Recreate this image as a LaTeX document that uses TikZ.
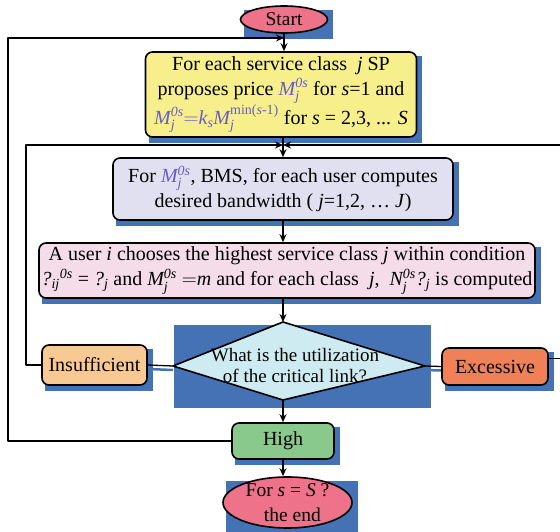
\documentclass[tikz,border=0pt]{standalone}
\usepackage{amsmath}
\usepackage{fontspec}
\setmainfont{Liberation Serif}
\usetikzlibrary{arrows.meta,shapes.geometric,backgrounds,calc}

\definecolor{shadeblue}{RGB}{68,114,180}
\definecolor{termfill}{RGB}{238,114,137}
\definecolor{pricefill}{RGB}{246,239,140}
\definecolor{bmsfill}{RGB}{224,224,240}
\definecolor{choosefill}{RGB}{244,220,232}
\definecolor{askfill}{RGB}{205,235,240}
\definecolor{insuffill}{RGB}{249,201,148}
\definecolor{excesfill}{RGB}{240,129,87}
\definecolor{highfill}{RGB}{137,201,139}
\definecolor{vio}{RGB}{107,92,196}

\newcommand{\Mos}{\mathit{M}_{\mathit{j}}^{\mathit{0s}}}

\tikzset{
  box/.style={draw, line width=1.6pt, rounded corners=7pt, align=center, inner sep=0pt,
    font=\fontsize{20}{25}\selectfont},
  term/.style={ellipse, draw, line width=1.6pt, align=center, inner sep=0pt,
    font=\fontsize{19.5}{25}\selectfont},
  link/.style={line width=1.3pt},
}

\begin{document}
\begin{tikzpicture}[x=1pt, y=-1pt, line join=round, >={Stealth[length=8pt,width=7pt]}]

            \useasboundingbox (0,0) rectangle (560,532);

            \node[term, fill=termfill, minimum width=87pt, minimum height=27pt] (start) at (284,19.5) {Start};

            \node[box, fill=pricefill, minimum width=271pt, minimum height=85pt] (prices) at (281,94.5)
              {For each service class \ \textit{j} SP\\
               proposes price {\color{vio}$\Mos$} for \textit{s}=1 and\\
               {\color{vio}$\Mos{=}\mathit{k}_{\mathit{s}}\mathit{M}_{\mathit{j}}^{\text{min(\textit{s}-1)}}$} for \textit{s} = 2,3, ... \textit{S}};

            \node[box, fill=bmsfill, minimum width=340pt, minimum height=62pt] (bms) at (283,189)
              {For {\color{vio}$\Mos$}, BMS, for each user computes\\
               desired bandwidth ( \textit{j}=1,2, \dots\ \textit{J})};

            \node[box, fill=choosefill, minimum width=496pt, minimum height=55pt] (choose) at (287,270.5)
              {A user \textit{i} chooses the highest service class \textit{j} within condition\\
               \textit{?}$_{\mathit{ij}}{}^{\mathit{0s}}$ = \textit{?}$_{\mathit{j}}$ and $\Mos$ ${=}\mathit{m}$ and for each class \ \textit{j}, \ $\mathit{N}_{\mathit{j}}^{\mathit{0s}}$\textit{?}$_{\mathit{j}}$ is computed};

            \coordinate (dtop) at (283,322);
            \coordinate (dleft) at (173,366);
            \coordinate (dright) at (425,366);
            \coordinate (dbot) at (283,400);
            \draw[line width=1.6pt, fill=askfill] (dtop) -- (dright) -- (dbot) -- (dleft) -- cycle;
            \node[align=center, font=\fontsize{19}{21}\selectfont] (ask) at (295,366)
              {What is the utilization\\of the critical link?};

            \node[box, fill=insuffill, minimum width=105pt, minimum height=40pt] (insuf) at (94.5,365) {Insufficient};
            \node[box, fill=excesfill, minimum width=106pt, minimum height=37pt] (exces) at (495,366.5) {Excessive};
            \node[box, fill=highfill, minimum width=102pt, minimum height=36pt] (high) at (283,441) {High};

            \node[term, fill=termfill, minimum width=129pt, minimum height=51pt, inner ysep=-10pt] (stop) at (287.5,502.5)
              {For \textit{s} = \textit{S} ?\\ \ \ the end};

            \coordinate (outer) at (8,38);
            \coordinate (topjoin) at (start.south |- outer);
            \coordinate (inner) at (26,145);
            \coordinate (midjoin) at (283,145);
            \coordinate (rightrail) at (563,145);

            \draw[link,->] (start.south) -- (start.south |- prices.north);
            \draw[link,->] (high.west) -| (outer) -- (topjoin);
            \draw[link,->] (prices.south -| midjoin) -- (midjoin |- bms.north);
            \draw[link,->] (insuf.west) -| (inner) -- (midjoin);
            \draw[link,->] ([yshift=8pt]exces.east) -| (rightrail) -- (midjoin);
            \draw[link,->] (bms.south -| dtop) -- (dtop |- choose.north);
            \draw[link,->] (choose.south -| dtop) -- (dtop);
            \draw[link,->] (dbot) -- (high.north);
            \draw[link,->] (high.south) -- (high.south |- stop.north);
            \draw[link] (insuf.east) -- (dleft);
            \draw[link] (dright) -- (exces.west);

            \begin{scope}[on background layer]
              \foreach \n in {start,prices,bms,choose,insuf,exces,high,stop}
                \fill[shadeblue] ($(\n.west |- \n.south)+(4,5)$) rectangle ($(\n.east |- \n.north)+(5,5)$);
              \fill[shadeblue] (174,325) rectangle (431,408);
              \draw[shadeblue, line width=2.5pt] ([yshift=-4pt]insuf.east) -- ([yshift=-4pt]dleft);
              \draw[shadeblue, line width=2.5pt] ([yshift=-4pt]dright) -- ([yshift=-4pt]exces.west);
            \end{scope}

        \end{tikzpicture}
\end{document}
